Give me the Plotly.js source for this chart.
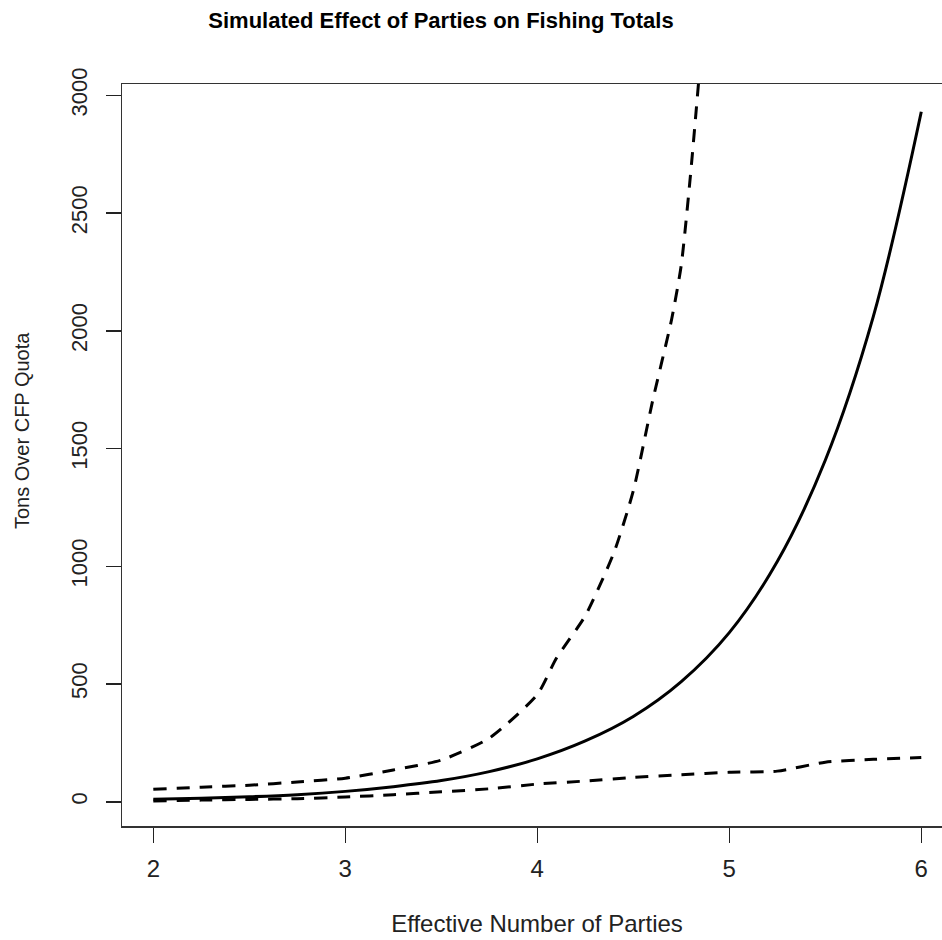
<!DOCTYPE html>
<html>
<head>
<meta charset="utf-8">
<script src="https://cdn.plot.ly/plotly-3.0.1.min.js"></script>
<style>
html, body { margin: 0; padding: 0; background: #fff; overflow: hidden; }
#chart { width: 960px; height: 940px; }
</style>
</head>
<body>
<div id="chart"></div>
<script>
// Effective number of parties (x) and simulated tons over quota
const xMid = [2, 2.25, 2.5, 2.75, 3, 3.25, 3.5, 3.75, 4, 4.25, 4.5, 4.75, 5, 5.25, 5.5, 5.75, 6];
const expected = [11, 15, 21, 30, 44, 64, 90, 128, 182, 258, 362, 510, 718, 1020, 1450, 2060, 2930];

const xUpper = [2, 2.25, 2.5, 2.75, 3, 3.25, 3.5, 3.75, 4, 4.1, 4.25, 4.4, 4.5, 4.6, 4.7, 4.75, 4.8, 4.85];
const upper = [53, 62, 70, 84, 100, 135, 177, 270, 455, 610, 790, 1060, 1320, 1700, 2050, 2280, 2680, 3150];

const xLower = [2, 2.25, 2.5, 2.75, 3, 3.25, 3.5, 3.75, 4, 4.25, 4.5, 4.75, 5, 5.25, 5.5, 5.75, 6];
const lower = [3, 7, 10, 13, 20, 30, 42, 55, 75, 88, 103, 115, 125, 130, 168, 180, 188];

const xTicks = [2, 3, 4, 5, 6];
const yTicks = [0, 500, 1000, 1500, 2000, 2500, 3000];

const font = "Liberation Sans, Arial, sans-serif";

const traces = [
  { x: xMid, y: expected, mode: "lines", line: { color: "#000", width: 3, shape: "spline", smoothing: 1 }, name: "Expected" },
  { x: xUpper, y: upper, mode: "lines", line: { color: "#000", width: 3, dash: "13px,10px", shape: "spline", smoothing: 0.6 }, name: "Upper" },
  { x: xLower, y: lower, mode: "lines", line: { color: "#000", width: 3, dash: "13px,10px", shape: "spline", smoothing: 0.6 }, name: "Lower" }
];

const layout = {
  width: 960,
  height: 940,
  margin: { l: 122, r: 8, t: 84, b: 114 },
  paper_bgcolor: "#fff",
  plot_bgcolor: "#fff",
  showlegend: false,
  font: { family: font, color: "#222" },
  title: {
    text: "Simulated Effect of Parties on Fishing Totals",
    font: { family: font, size: 22, color: "#000", weight: "bold" },
    xref: "container", yref: "container",
    x: 441 / 960, xanchor: "center",
    y: 1 - 13 / 940, yanchor: "top"
  },
  xaxis: {
    range: [1.837, 6.16],
    tickvals: xTicks,
    ticktext: xTicks.map(String),
    ticks: "outside", ticklen: 15, tickwidth: 1.5, tickcolor: "#222",
    ticklabelstandoff: 6,
    tickfont: { size: 24, color: "#222" },
    showline: true, mirror: true, linecolor: "#333", linewidth: 1.5,
    showgrid: false, zeroline: false,
    title: { text: "Effective Number of Parties", font: { size: 24, color: "#222" }, standoff: 34 }
  },
  yaxis: {
    range: [-103, 3048],
    tickvals: yTicks,
    ticktext: yTicks.map(String),
    tickangle: -90,
    ticks: "outside", ticklen: 15, tickwidth: 1.5, tickcolor: "#222",
    ticklabelstandoff: 10,
    tickfont: { size: 22, color: "#222" },
    showline: true, mirror: true, linecolor: "#333", linewidth: 1.5,
    showgrid: false, zeroline: false
  },
  annotations: [
    {
      text: "Tons Over CFP Quota",
      xref: "paper", yref: "paper",
      x: (22 - 122) / 830, y: (826 - 431) / 742,
      xanchor: "center", yanchor: "middle",
      textangle: -90, showarrow: false,
      font: { family: font, size: 20, color: "#222" }
    }
  ]
};

Plotly.newPlot("chart", traces, layout, { staticPlot: true, displayModeBar: false });
</script>
</body>
</html>
